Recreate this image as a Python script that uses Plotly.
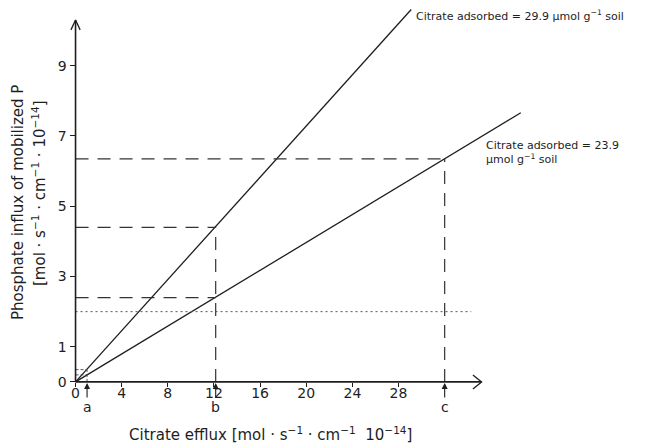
import numpy as np
import plotly.graph_objects as go

# Citrate efflux (x) vs. phosphate influx of mobilized P (y) for two adsorption levels
line_high_x = [0.0, 29.1]      # citrate adsorbed = 29.9 µmol g-1 soil
line_high_y = [0.0, 10.6]
line_low_x = [0.0, 38.6]       # citrate adsorbed = 23.9 µmol g-1 soil
line_low_y = [0.0, 7.66]

# marked efflux rates a, b, c and the influx levels
mark_labels = ["a", "b", "c"]
mark_x = [1.0, 12.15, 32.0]
level_b_high = 4.4
level_b_low = 2.4
level_c = 6.35
level_a = [0.35, 0.2]
dotted_level = 2.0
dotted_end = 34.3

x_ticks = [0, 4, 8, 12, 16, 20, 24, 28]
y_ticks = [0, 1, 3, 5, 7, 9]

x_axis_end = 35.2
y_axis_end = 10.3

W, H = 646, 444
L, R, T, B = 64, 11, 0, 41
xr = [-1.0, 48.5]
yr = [-0.6, 10.87]

INK = "#1e1e1e"
FONT = "DejaVu Sans"

fig = go.Figure()

def seg(x, y, dash="solid", width=1.2, color=INK):
    fig.add_trace(go.Scatter(x=x, y=y, mode="lines", showlegend=False, hoverinfo="skip",
                             line=dict(color=color, width=width, dash=dash)))

# main lines
seg(line_high_x, line_high_y, width=1.3)
seg(line_low_x, line_low_y, width=1.3)

# dashed read-off lines
DASH = "13px,9px"
seg([0, mark_x[1]], [level_b_high, level_b_high], DASH, 1.2, "#333")
seg([0, mark_x[1]], [level_b_low, level_b_low], DASH, 1.2, "#333")
seg([mark_x[1], mark_x[1]], [0, level_b_high], DASH, 1.2, "#333")
seg([0, mark_x[2]], [level_c, level_c], DASH, 1.2, "#333")
seg([mark_x[2], mark_x[2]], [0, level_c], DASH, 1.2, "#333")
for lv in level_a:
    seg([0, mark_x[0]], [lv, lv], "3px,2px", 0.9, "#444")
seg([mark_x[0], mark_x[0]], [0, level_a[0]], "3px,2px", 0.9, "#444")

# dotted reference level
seg([0, dotted_end], [dotted_level, dotted_level], "2px,3px", 1.0, "#555")

# axes with open arrow heads
seg([0, x_axis_end], [0, 0], width=1.6)
seg([0, 0], [0, y_axis_end], width=1.6)
seg([x_axis_end - 0.75, x_axis_end, x_axis_end - 0.75], [0.2, 0, -0.2], width=1.3)
seg([-0.4, 0, 0.4], [y_axis_end - 0.28, y_axis_end, y_axis_end - 0.28], width=1.3)

x_pos = (0 - yr[0]) / (yr[1] - yr[0])
y_pos = (0 - xr[0]) / (xr[1] - xr[0])

fig.update_layout(
    width=W, height=H,
    margin=dict(l=L, r=R, t=T, b=B),
    paper_bgcolor="white", plot_bgcolor="white",
    font=dict(family=FONT, color=INK, size=14),
    xaxis=dict(range=xr, showgrid=False, zeroline=False, showline=False,
               tickvals=x_ticks, ticktext=[str(v) for v in x_ticks],
               ticks="outside", ticklen=4, tickwidth=1.2, tickcolor=INK,
               ticklabelstandoff=-6,
               anchor="free", position=x_pos, tickfont=dict(size=14)),
    yaxis=dict(range=yr, showgrid=False, zeroline=False, showline=False,
               tickvals=y_ticks, ticktext=[str(v) for v in y_ticks],
               ticks="outside", ticklen=6, tickwidth=1.2, tickcolor=INK,
               anchor="free", position=y_pos, tickfont=dict(size=14)),
)

# pixel helpers for placing text in paper coordinates
pw = W - L - R
ph = H - T - B
def fx(px):
    return (px - L) / pw
def fy(py):
    return 1 - (py - T) / ph
def dy(py):
    return yr[1] - (py - T) / ph * (yr[1] - yr[0])

# arrows and letters under the x axis
for lab, xv in zip(mark_labels, mark_x):
    fig.add_annotation(x=xv, y=dy(383), ax=0, ay=16, xref="x", yref="y",
                       text="", showarrow=True, arrowhead=2, arrowsize=1.1,
                       arrowwidth=1.1, arrowcolor=INK)
    xpix = L + (xv - xr[0]) / (xr[1] - xr[0]) * pw
    fig.add_annotation(x=fx(xpix), y=fy(407), xref="paper", yref="paper",
                       text=lab, showarrow=False,
                       font=dict(size=14), xanchor="center", yanchor="middle")

# line labels
fig.add_annotation(x=fx(414), y=fy(15), xref="paper", yref="paper",
                   text="Citrate adsorbed = 29.9 µmol g<sup>−1</sup> soil",
                   showarrow=False, xanchor="left", yanchor="middle",
                   font=dict(size=11))
fig.add_annotation(x=fx(484), y=fy(153), xref="paper", yref="paper",
                   text="Citrate adsorbed = 23.9<br>µmol g<sup>−1</sup> soil",
                   showarrow=False, xanchor="left", yanchor="middle", align="left",
                   font=dict(size=11))

# axis titles
fig.add_annotation(x=fx(270), y=fy(434), xref="paper", yref="paper",
                   text="Citrate efflux [mol · s<sup>−1</sup> · cm<sup>−1</sup>  10<sup>−14</sup>]",
                   showarrow=False, xanchor="center", yanchor="middle",
                   font=dict(size=15))
fig.add_annotation(x=fx(18), y=fy(203), xref="paper", yref="paper",
                   text="Phosphate influx of mobilized P",
                   textangle=-90, showarrow=False, xanchor="center", yanchor="middle",
                   font=dict(size=15))
fig.add_annotation(x=fx(39), y=fy(193), xref="paper", yref="paper",
                   text="[mol · s<sup>−1</sup> · cm<sup>−1</sup> · 10<sup>−14</sup>]",
                   textangle=-90, showarrow=False, xanchor="center", yanchor="middle",
                   font=dict(size=15))

fig.write_html("out.html")
